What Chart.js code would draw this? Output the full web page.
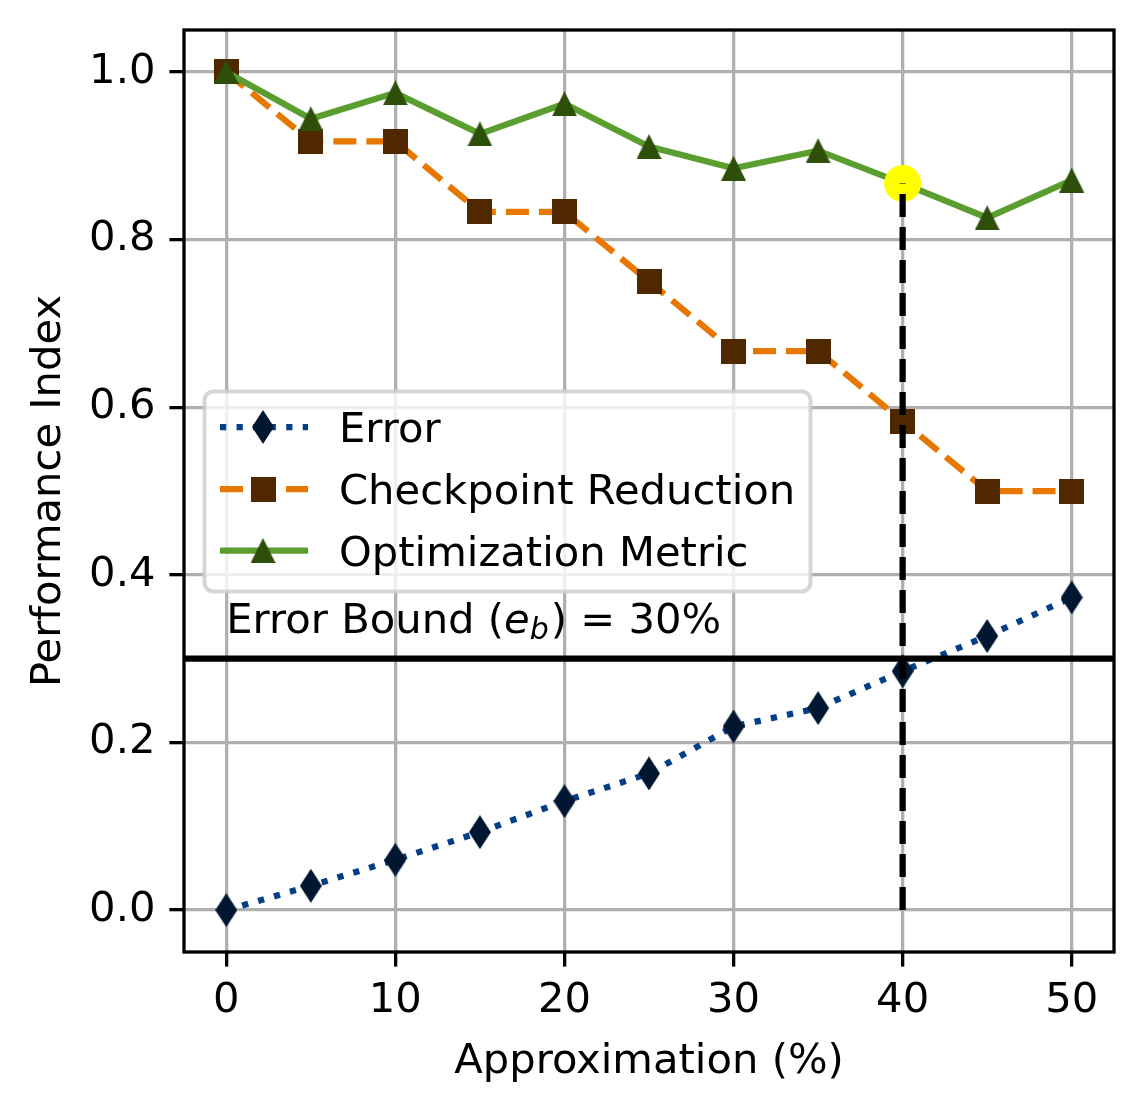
<!DOCTYPE html>
<html>
<head>
<meta charset="utf-8">
<script src="https://cdn.jsdelivr.net/npm/chart.js@4.4.1/dist/chart.umd.min.js"></script>
<style>
  html, body { margin: 0; padding: 0; background: #fff; }
  #wrap { width: 1144px; height: 1113px; }
</style>
</head>
<body>
<div id="wrap"><canvas id="chart" width="1144" height="1113"></canvas></div>
<script>
// data
const approx = [0, 5, 10, 15, 20, 25, 30, 35, 40, 45, 50];
const errorVals = [0.0, 0.029, 0.060, 0.093, 0.130, 0.163, 0.219, 0.241, 0.285, 0.327, 0.373];
const checkpointVals = [1.0, 0.917, 0.917, 0.833, 0.833, 0.75, 0.667, 0.667, 0.583, 0.5, 0.5];
const optVals = [1.0, 0.944, 0.975, 0.926, 0.962, 0.911, 0.885, 0.906, 0.867, 0.826, 0.871];
const xTicks = [0, 10, 20, 30, 40, 50];
const yTicks = [0.0, 0.2, 0.4, 0.6, 0.8, 1.0];
const xLimits = [-2.5, 52.5];
const yLimits = [-0.05, 1.05];
const errorBound = 0.3;
const chosenX = 40;
const chosenY = optVals[approx.indexOf(chosenX)];
const seriesNames = ["Error", "Checkpoint Reduction", "Optimization Metric"];

const FONT = '"DejaVu Sans", "Liberation Sans", sans-serif';
const FS = 41.7;
const LW = 6.25;

// matplotlib-like markers as small canvases
function marker(w, h, color, path) {
    const c = document.createElement("canvas");
    c.width = w; c.height = h;
    const g = c.getContext("2d");
    g.fillStyle = color;
    g.beginPath();
    path(g, w, h);
    g.closePath();
    g.fill();
    return c;
}
const thinDiamond = marker(22, 34, "#011731", (g, w, h) => {
    g.moveTo(w / 2, 0); g.lineTo(w, h / 2); g.lineTo(w / 2, h); g.lineTo(0, h / 2);
});
const square = marker(25, 25, "#4f2800", (g, w, h) => g.rect(0, 0, w, h));
const triangle = marker(25, 25, "#2d4f0a", (g, w, h) => {
    g.moveTo(w / 2, 0); g.lineTo(w, h); g.lineTo(0, h);
});

const pts = (ys) => approx.map((x, i) => ({ x: x, y: ys[i] }));

// outer frame (matplotlib spines)
const framePlugin = {
    id: "frame",
    afterDatasetsDraw(chart) {
        const { ctx, chartArea: a } = chart;
        ctx.save();
        ctx.strokeStyle = "#000";
        ctx.lineWidth = 3.3;
        ctx.strokeRect(a.left, a.top, a.right - a.left, a.bottom - a.top);
        ctx.restore();
    }
};

// "Error Bound (e_b) = 30%" label
const boundTextPlugin = {
    id: "boundText",
    afterDatasetsDraw(chart) {
        const { ctx, scales } = chart;
        let x = scales.x.getPixelForValue(0);
        const y = scales.y.getPixelForValue(0.33);
        const parts = [
            { t: "Error Bound (", f: `${FS}px ${FONT}`, dy: 0 },
            { t: "e", f: `italic ${FS}px ${FONT}`, dy: 0 },
            { t: "b", f: `italic ${FS * 0.72}px ${FONT}`, dy: 6 },
            { t: ") = " + Math.round(errorBound * 100) + "%", f: `${FS}px ${FONT}`, dy: 0 }
        ];
        ctx.save();
        ctx.fillStyle = "#000";
        ctx.textBaseline = "alphabetic";
        ctx.textAlign = "left";
        parts.forEach(p => {
            ctx.font = p.f;
            ctx.fillText(p.t, x, y + p.dy);
            x += ctx.measureText(p.t).width + (p.t === "b" ? 2 : 0);
        });
        ctx.restore();
    }
};

// legend box with line + marker handles
const legendPlugin = {
    id: "mplLegend",
    afterDraw(chart) {
        const { ctx } = chart;
        const box = { x: 204.5, y: 391.5, w: 606, h: 200 };
        const rows = [427, 489, 550.5];
        ctx.save();
        ctx.beginPath();
        ctx.roundRect(box.x, box.y, box.w, box.h, 9);
        ctx.fillStyle = "rgba(255,255,255,0.8)";
        ctx.fill();
        ctx.lineWidth = 4;
        ctx.strokeStyle = "rgba(204,204,204,0.8)";
        ctx.stroke();
        chart.data.datasets.slice(0, 3).forEach((ds, i) => {
            const ry = rows[i];
            ctx.beginPath();
            ctx.setLineDash(ds.borderDash || []);
            ctx.lineCap = "butt";
            ctx.lineWidth = ds.borderWidth;
            ctx.strokeStyle = ds.borderColor;
            ctx.moveTo(220, ry);
            ctx.lineTo(308, ry);
            ctx.stroke();
            ctx.setLineDash([]);
            const m = ds.pointStyle;
            ctx.drawImage(m, 263 - m.width / 2, ry - m.height / 2);
            ctx.fillStyle = "#000";
            ctx.font = `${FS}px ${FONT}`;
            ctx.textBaseline = "alphabetic";
            ctx.fillText(ds.label, 339, ry + 15);
        });
        ctx.restore();
    }
};

const ctx = document.getElementById("chart").getContext("2d");
new Chart(ctx, {
    type: "line",
    data: {
        datasets: [
            {
                label: seriesNames[0],
                data: pts(errorVals),
                borderColor: "#023f86",
                borderWidth: LW,
                borderDash: [6.25, 10.3],
                pointStyle: thinDiamond,
                pointRadius: 12,
                tension: 0,
                order: 6
            },
            {
                label: seriesNames[1],
                data: pts(checkpointVals),
                borderColor: "#e87700",
                borderWidth: LW,
                borderDash: [23, 10],
                pointStyle: square,
                pointRadius: 12,
                tension: 0,
                order: 5
            },
            {
                label: seriesNames[2],
                data: pts(optVals),
                borderColor: "#5a9e2f",
                borderWidth: LW,
                pointStyle: triangle,
                pointRadius: 12,
                tension: 0,
                order: 4
            },
            {
                label: "bound",
                data: [{ x: xLimits[0], y: errorBound }, { x: xLimits[1], y: errorBound }],
                borderColor: "#000",
                borderWidth: LW,
                pointRadius: 0,
                order: 3
            },
            {
                label: "chosen",
                data: [{ x: chosenX, y: chosenY }],
                showLine: false,
                pointStyle: "circle",
                pointRadius: 18.5,
                pointBackgroundColor: "#ffff00",
                pointBorderWidth: 0,
                order: 2
            },
            {
                label: "chosen-drop",
                data: [{ x: chosenX, y: 0 }, { x: chosenX, y: chosenY }],
                borderColor: "#000",
                borderWidth: LW,
                borderDash: [23, 10],
                pointRadius: 0,
                order: 1
            }
        ]
    },
    options: {
        responsive: false,
        animation: false,
        events: [],
        layout: { padding: { top: 30, right: 30, left: 0, bottom: 0 } },
        plugins: {
            legend: { display: false },
            tooltip: { enabled: false }
        },
        scales: {
            x: {
                type: "linear",
                min: xLimits[0],
                max: xLimits[1],
                afterBuildTicks: (s) => { s.ticks = xTicks.map(v => ({ value: v })); },
                afterFit: (s) => {
                    s.height = 161;
                    s.paddingLeft = 0; s.paddingRight = 0;
                },
                border: { display: false },
                grid: {
                    color: "#b0b0b0",
                    lineWidth: 3.3,
                    drawTicks: true,
                    tickLength: 14.6,
                    tickWidth: 3.3,
                    tickColor: "#000"
                },
                ticks: {
                    color: "#000",
                    font: { family: FONT, size: FS },
                    padding: 10,
                    maxRotation: 0,
                    autoSkip: false,
                    callback: (v) => String(v)
                },
                title: {
                    display: true,
                    text: "Approximation (%)",
                    color: "#000",
                    font: { family: FONT, size: FS },
                    padding: { top: 0, bottom: 26 }
                }
            },
            y: {
                type: "linear",
                min: yLimits[0],
                max: yLimits[1],
                afterBuildTicks: (s) => { s.ticks = yTicks.map(v => ({ value: v })); },
                afterFit: (s) => {
                    s.width = 184;
                    s.paddingTop = 0; s.paddingBottom = 0;
                },
                border: { display: false },
                grid: {
                    color: "#b0b0b0",
                    lineWidth: 3.3,
                    drawTicks: true,
                    tickLength: 14.6,
                    tickWidth: 3.3,
                    tickColor: "#000"
                },
                ticks: {
                    color: "#000",
                    font: { family: FONT, size: FS },
                    padding: 14,
                    autoSkip: false,
                    callback: (v) => Number(v).toFixed(1)
                },
                title: {
                    display: true,
                    text: "Performance Index",
                    color: "#000",
                    font: { family: FONT, size: FS },
                    padding: { top: 24, bottom: 0 }
                }
            }
        }
    },
    plugins: [framePlugin, boundTextPlugin, legendPlugin]
});
</script>
</body>
</html>
